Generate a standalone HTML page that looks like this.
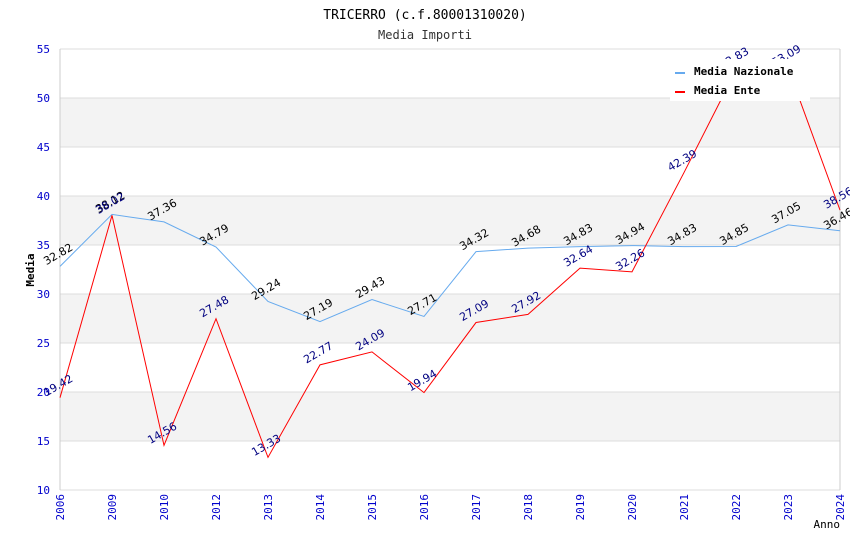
<!DOCTYPE html>
<html><head><meta charset="utf-8"><style>
body{margin:0;background:#fff;}
svg text{font-family:"DejaVu Sans Mono","Liberation Mono",monospace;}
svg text.v{font-family:"DejaVu Sans","Liberation Sans",sans-serif;}
</style></head><body>
<svg id="c" width="850" height="550" xmlns="http://www.w3.org/2000/svg">
<text x="425" y="19" text-anchor="middle" font-size="13" fill="#000">TRICERRO (c.f.80001310020)</text>
<text x="425" y="39" text-anchor="middle" font-size="12" fill="#333">Media Importi</text>
<g id="grid"></g><g id="lines"></g><g id="labels"></g>
<g>
<rect x="670" y="59" width="140" height="42" fill="#fff"/>
<rect x="675" y="72" width="10" height="2" fill="#66aaee"/>
<text x="694" y="75" font-size="11" font-weight="bold">Media Nazionale</text>
<rect x="675" y="91" width="10" height="2" fill="#ff0000"/>
<text x="694" y="94" font-size="11" font-weight="bold">Media Ente</text>
</g>
<text x="34" y="270" font-size="11" font-weight="bold" transform="rotate(-90 34 270)" text-anchor="middle">Media</text>
<text x="840" y="528" font-size="11" text-anchor="end">Anno</text>
</svg>
<script>
const categories=["2006","2009","2010","2012","2013","2014","2015","2016","2017","2018","2019","2020","2021","2022","2023","2024"];
const nazionale=[32.82,38.12,37.36,34.79,29.24,27.19,29.43,27.71,34.32,34.68,34.83,34.94,34.83,34.85,37.05,36.46];
const ente=[19.42,38.02,14.56,27.48,13.33,22.77,24.09,19.94,27.09,27.92,32.64,32.26,42.39,52.83,53.09,38.56];
const yTicks=[10,15,20,25,30,35,40,45,50,55];
const NS="http://www.w3.org/2000/svg";
const L=60,R=840,T=49,B=490,ymin=10,ymax=55;
const xs=i=>L+i*(R-L)/(categories.length-1);
const ys=v=>B-(v-ymin)/(ymax-ymin)*(B-T);
function mk(tag,attrs,parent){const e=document.createElementNS(NS,tag);for(const k in attrs)e.setAttribute(k,attrs[k]);parent.appendChild(e);return e;}
const g=document.getElementById('grid');
for(let i=0;i<yTicks.length-1;i++){
  if(i%2===1){const r=mk('rect',{x:L,y:ys(yTicks[i+1]),width:R-L,height:ys(yTicks[i])-ys(yTicks[i+1]),fill:'#f3f3f3'},g);
  
  }
}
yTicks.forEach(v=>{
  const l=mk('line',{x1:L,x2:R,y1:ys(v),y2:ys(v),stroke:'#dddddd'},g);
  
  
  const t=mk('text',{x:L-10,y:ys(v)+4,'text-anchor':'end','font-size':11,fill:'#0000cc'},g);t.textContent=v;
  
  
});
mk('line',{x1:L,x2:L,y1:T,y2:B,stroke:'#ccc'},g);
mk('line',{x1:R,x2:R,y1:T,y2:B,stroke:'#ccc'},g);
categories.forEach((c,i)=>{
  const x=xs(i),y=B+4;
  const t=mk('text',{x:x+4,y:y,'text-anchor':'end','font-size':11,fill:'#0000cc',transform:`rotate(-90 ${x+4} ${y})`},g);t.textContent=c;
  
  
});
const lg=document.getElementById('lines'),lb=document.getElementById('labels');
function series(data,color,lc,name){
  const p=mk('polyline',{points:data.map((v,i)=>xs(i)+','+ys(v)).join(' '),fill:'none',stroke:color,'stroke-width':1},lg);
  
  
  data.forEach((v,i)=>{
    const x=xs(i),y=ys(v)-9;
    const t=mk('text',{class:'v',x:x,y:y,'text-anchor':'middle','font-size':11,fill:lc,transform:`rotate(-30 ${x} ${y})`},lb);
    t.textContent=v.toFixed(2);
    
    
  });
}
series(nazionale,'#66aaee','#000','nazionale');
series(ente,'#ff0000','#000080','ente');
</script>
</body></html>
